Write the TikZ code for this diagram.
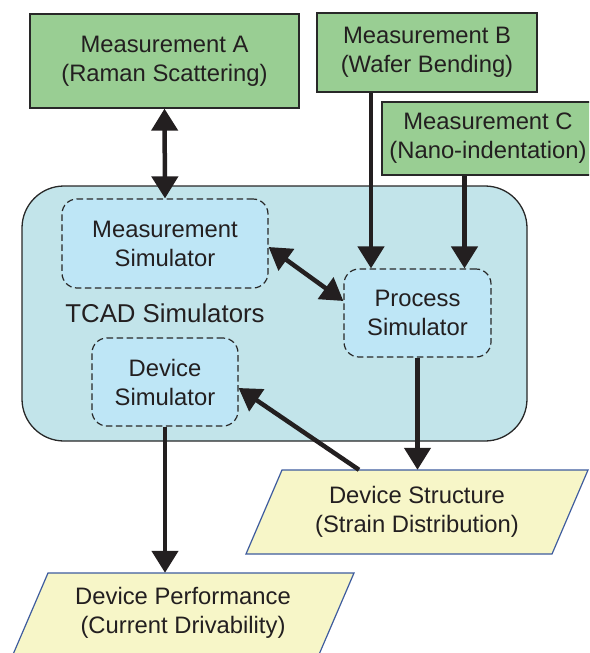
\documentclass[tikz,border=0pt]{standalone}
\usepackage{fontspec}
\setmainfont{Liberation Sans}
\usetikzlibrary{arrows.meta,calc}
\definecolor{ink}{RGB}{35,31,32}
\definecolor{edge}{RGB}{40,40,40}
\definecolor{measgreen}{RGB}{153,206,147}
\definecolor{tcadblue}{RGB}{194,228,234}
\definecolor{simblue}{RGB}{190,230,246}
\definecolor{docyellow}{RGB}{247,246,200}
\definecolor{docedge}{RGB}{62,92,158}
\begin{document}
\begin{tikzpicture}[x=1pt,y=-1pt,
  txt/.style={text=ink,align=center,font=\fontsize{23.8}{29}\selectfont,inner sep=0pt},
  meas/.style={txt,draw=edge,line width=1.3pt,fill=measgreen},
  sim/.style={txt,draw=edge,line width=1.2pt,dash pattern=on 6.5pt off 3.5pt,
    fill=simblue,rounded corners=15pt},
  docshape/.style={draw=docedge,line width=1.2pt,fill=docyellow},
  arr/.style={draw=ink,line width=4.5pt,-{Triangle[width=26pt,length=22pt]}},
  darr/.style={draw=ink,line width=4.5pt,{Triangle[width=26pt,length=22pt]}-{Triangle[width=26pt,length=22pt]}}]
\clip (0,0) rectangle (589,653);

% measurement boxes
\node[meas,minimum width=269pt,minimum height=94pt] (mA) at (164.5,61)
  {Measurement A\\(Raman Scattering)};
\node[meas,minimum width=220pt,minimum height=79pt] (mB) at (427,52.5)
  {Measurement B\\(Wafer Bending)};
\node[meas,minimum width=212pt,minimum height=73pt] (mC) at (488,138.5)
  {Measurement C\\(Nano-indentation)};

% TCAD container
\node[draw=edge,line width=1.3pt,fill=tcadblue,rounded corners=42pt,
  minimum width=505pt,minimum height=255pt,inner sep=0pt] (tcad) at (274.5,313.5) {};
\node[txt,font=\fontsize{25.8}{30}\selectfont] (tcadlbl) at (165,313) {TCAD Simulators};

% simulators
\node[sim,minimum width=206pt,minimum height=89pt] (msim) at (165,243.5)
  {Measurement\\Simulator};
\node[sim,minimum width=147pt,minimum height=88pt] (psim) at (417.5,313)
  {Process\\Simulator};
\node[sim,minimum width=146pt,minimum height=88pt] (dsim) at (165,382)
  {Device\\Simulator};

% output documents (parallelograms)
\draw[docshape] (282,470) -- (588,470) -- (552,554) -- (246,554) -- cycle;
\node[txt,minimum width=270pt,minimum height=84pt] (ds) at (417,512)
  {Device Structure\\(Strain Distribution)};
\draw[docshape] (48,573) -- (354,573) -- (317.5,658) -- (11.5,658) -- cycle;
\node[txt,minimum width=270pt,minimum height=80pt] (dp) at (183,613)
  {Device Performance\\(Current Drivability)};

% connectors
\draw[darr] (mA.south) -- (msim.north);
\draw[arr] ([xshift=-56pt]mB.south) -- ([xshift=-56pt]mB.south |- psim.north);
\draw[arr] ([xshift=-23.5pt]mC.south) -- ([xshift=-23.5pt]mC.south |- psim.north);
\draw[darr] ([yshift=-3.5pt]msim.east) -- ([yshift=12pt]psim.west);
\draw[arr] (psim.south) -- (psim.south |- ds.north);
\draw[arr] ([xshift=-58pt]ds.north) -- ([yshift=-6pt]dsim.east);
\draw[arr] (dsim.south) -- (dsim.south |- dp.north);
\end{tikzpicture}
\end{document}
